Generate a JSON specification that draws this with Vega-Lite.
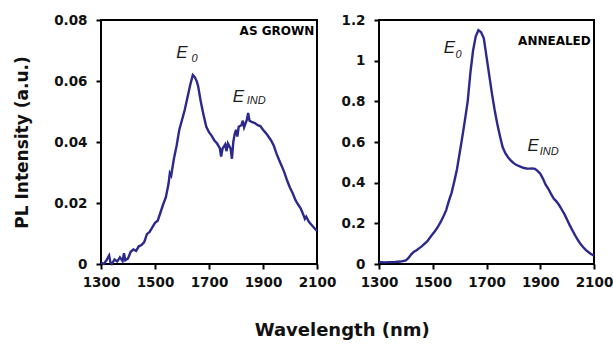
{
  "$schema": "https://vega.github.io/schema/vega-lite/v6.json",
  "background": "white",
  "padding": {"left": 12, "top": 12, "right": 10, "bottom": 5},
  "bounds": "flush",
  "spacing": 62,
  "title": {"text": "Wavelength (nm)", "orient": "bottom", "anchor": "middle", "font": "DejaVu Sans", "fontSize": 18, "fontWeight": "bold", "color": "#111", "offset": 32, "dx": 29},
  "config": {
    "view": {"stroke": "black", "strokeWidth": 2},
    "axis": {"labelFont": "DejaVu Sans", "labelFontWeight": "bold", "labelFontSize": 13.5, "labelColor": "#111", "tickColor": "black", "tickWidth": 2, "tickSize": 5, "domain": false, "grid": false, "titleFont": "DejaVu Sans", "titleFontWeight": "bold", "titleColor": "#111", "labelOverlap": false, "labelFlush": false},
    "text": {"color": "#1a1a1a"}
  },
  "datasets": {
    "asgrown": [
      {"wl":1300,"pl":0.0005},{"wl":1310,"pl":0.0},{"wl":1320,"pl":0.0012},{"wl":1330,"pl":0.0028},{"wl":1335,"pl":0.0005},{"wl":1340,"pl":0.0},{"wl":1350,"pl":0.0015},{"wl":1360,"pl":0.0008},{"wl":1370,"pl":0.0022},{"wl":1380,"pl":0.001},{"wl":1385,"pl":0.0035},{"wl":1390,"pl":0.0012},{"wl":1400,"pl":0.0018},{"wl":1410,"pl":0.004},{"wl":1420,"pl":0.0048},{"wl":1430,"pl":0.0043},{"wl":1440,"pl":0.0058},{"wl":1450,"pl":0.0062},{"wl":1460,"pl":0.0072},{"wl":1470,"pl":0.0098},{"wl":1480,"pl":0.0105},{"wl":1490,"pl":0.012},{"wl":1500,"pl":0.0135},{"wl":1510,"pl":0.0142},{"wl":1520,"pl":0.0168},{"wl":1530,"pl":0.0195},{"wl":1540,"pl":0.0218},{"wl":1550,"pl":0.0262},{"wl":1555,"pl":0.0298},{"wl":1560,"pl":0.029},{"wl":1570,"pl":0.0345},{"wl":1580,"pl":0.0388},{"wl":1590,"pl":0.044},{"wl":1600,"pl":0.0472},{"wl":1610,"pl":0.0505},{"wl":1620,"pl":0.0545},{"wl":1630,"pl":0.0585},{"wl":1640,"pl":0.062},{"wl":1648,"pl":0.0612},{"wl":1655,"pl":0.0598},{"wl":1660,"pl":0.0582},{"wl":1670,"pl":0.053},{"wl":1680,"pl":0.0488},{"wl":1690,"pl":0.045},{"wl":1700,"pl":0.0432},{"wl":1710,"pl":0.042},{"wl":1720,"pl":0.0405},{"wl":1730,"pl":0.0395},{"wl":1740,"pl":0.038},{"wl":1745,"pl":0.0352},{"wl":1750,"pl":0.0378},{"wl":1760,"pl":0.0392},{"wl":1765,"pl":0.037},{"wl":1770,"pl":0.0395},{"wl":1780,"pl":0.0378},{"wl":1785,"pl":0.0345},{"wl":1790,"pl":0.04},{"wl":1795,"pl":0.0425},{"wl":1800,"pl":0.044},{"wl":1805,"pl":0.0418},{"wl":1810,"pl":0.045},{"wl":1820,"pl":0.0455},{"wl":1825,"pl":0.047},{"wl":1830,"pl":0.0448},{"wl":1840,"pl":0.0472},{"wl":1845,"pl":0.0495},{"wl":1850,"pl":0.047},{"wl":1860,"pl":0.0465},{"wl":1870,"pl":0.0462},{"wl":1880,"pl":0.0455},{"wl":1890,"pl":0.0452},{"wl":1900,"pl":0.044},{"wl":1910,"pl":0.043},{"wl":1920,"pl":0.0418},{"wl":1930,"pl":0.0405},{"wl":1940,"pl":0.0388},{"wl":1950,"pl":0.0362},{"wl":1960,"pl":0.034},{"wl":1970,"pl":0.032},{"wl":1980,"pl":0.0298},{"wl":1990,"pl":0.0272},{"wl":2000,"pl":0.025},{"wl":2010,"pl":0.0232},{"wl":2020,"pl":0.021},{"wl":2030,"pl":0.0195},{"wl":2040,"pl":0.0182},{"wl":2050,"pl":0.016},{"wl":2055,"pl":0.0148},{"wl":2060,"pl":0.0155},{"wl":2070,"pl":0.0138},{"wl":2080,"pl":0.0128},{"wl":2090,"pl":0.0118},{"wl":2100,"pl":0.0108}
    ],
    "annealed": [
      {"wl":1300,"pl":0.01},{"wl":1320,"pl":0.008},{"wl":1340,"pl":0.009},{"wl":1360,"pl":0.01},{"wl":1380,"pl":0.012},{"wl":1400,"pl":0.018},{"wl":1410,"pl":0.03},{"wl":1420,"pl":0.048},{"wl":1430,"pl":0.06},{"wl":1440,"pl":0.068},{"wl":1450,"pl":0.078},{"wl":1460,"pl":0.088},{"wl":1470,"pl":0.1},{"wl":1480,"pl":0.112},{"wl":1490,"pl":0.13},{"wl":1500,"pl":0.148},{"wl":1510,"pl":0.165},{"wl":1520,"pl":0.185},{"wl":1530,"pl":0.208},{"wl":1540,"pl":0.235},{"wl":1550,"pl":0.265},{"wl":1560,"pl":0.31},{"wl":1570,"pl":0.35},{"wl":1580,"pl":0.405},{"wl":1590,"pl":0.465},{"wl":1600,"pl":0.545},{"wl":1610,"pl":0.625},{"wl":1620,"pl":0.71},{"wl":1630,"pl":0.8},{"wl":1640,"pl":0.94},{"wl":1650,"pl":1.05},{"wl":1660,"pl":1.12},{"wl":1670,"pl":1.15},{"wl":1680,"pl":1.14},{"wl":1690,"pl":1.11},{"wl":1700,"pl":1.02},{"wl":1710,"pl":0.93},{"wl":1720,"pl":0.84},{"wl":1730,"pl":0.76},{"wl":1740,"pl":0.69},{"wl":1750,"pl":0.63},{"wl":1760,"pl":0.575},{"wl":1770,"pl":0.545},{"wl":1780,"pl":0.525},{"wl":1790,"pl":0.51},{"wl":1800,"pl":0.497},{"wl":1810,"pl":0.488},{"wl":1820,"pl":0.482},{"wl":1830,"pl":0.477},{"wl":1840,"pl":0.472},{"wl":1850,"pl":0.47},{"wl":1860,"pl":0.469},{"wl":1870,"pl":0.47},{"wl":1880,"pl":0.468},{"wl":1890,"pl":0.458},{"wl":1900,"pl":0.444},{"wl":1910,"pl":0.42},{"wl":1920,"pl":0.39},{"wl":1930,"pl":0.37},{"wl":1940,"pl":0.345},{"wl":1950,"pl":0.322},{"wl":1960,"pl":0.308},{"wl":1970,"pl":0.29},{"wl":1980,"pl":0.268},{"wl":1990,"pl":0.245},{"wl":2000,"pl":0.218},{"wl":2010,"pl":0.19},{"wl":2020,"pl":0.165},{"wl":2030,"pl":0.14},{"wl":2040,"pl":0.118},{"wl":2050,"pl":0.098},{"wl":2060,"pl":0.082},{"wl":2070,"pl":0.068},{"wl":2080,"pl":0.058},{"wl":2090,"pl":0.048},{"wl":2100,"pl":0.042}
    ],
    "labelsL": [
      {"kind":"main","text":"E","wl":1579,"pl":0.0693},
      {"kind":"sub","text":"0","wl":1635,"pl":0.0673},
      {"kind":"main","text":"E","wl":1788,"pl":0.0549},
      {"kind":"sub","text":"IND","wl":1840,"pl":0.0533},
      {"kind":"head","text":"AS GROWN","wl":2090,"pl":0.0764}
    ],
    "labelsR": [
      {"kind":"main","text":"E","wl":1541,"pl":1.064},
      {"kind":"sub","text":"0","wl":1585,"pl":1.029},
      {"kind":"main","text":"E","wl":1853,"pl":0.58},
      {"kind":"sub","text":"IND","wl":1898,"pl":0.55},
      {"kind":"head","text":"ANNEALED","wl":2088,"pl":1.099}
    ]
  },
  "hconcat": [
    {
      "width": 216, "height": 244,
      "layer": [
        {
          "data": {"name": "asgrown"},
          "mark": {"type": "line", "color": "#2B2A8C", "strokeWidth": 2.4},
          "encoding": {
            "x": {"field": "wl", "type": "quantitative", "scale": {"domain": [1300, 2100]}, "axis": {"title": null, "values": [1300,1500,1700,1900,2100], "format": "d", "labelPadding": 6}},
            "y": {"field": "pl", "type": "quantitative", "scale": {"domain": [0, 0.08]}, "axis": {"title": "PL Intensity (a.u.)", "titleFontSize": 17, "titlePadding": 22, "values": [0,0.02,0.04,0.06,0.08], "format": ".2~f", "labelPadding": 9}}
          }
        },
        {
          "data": {"name": "labelsL"},
          "transform": [{"filter": "datum.kind == 'main'"}],
          "mark": {"type": "text", "font": "Liberation Sans", "fontStyle": "italic", "fontSize": 17, "align": "left", "baseline": "middle"},
          "encoding": {"x": {"field": "wl", "type": "quantitative"}, "y": {"field": "pl", "type": "quantitative"}, "text": {"field": "text"}}
        },
        {
          "data": {"name": "labelsL"},
          "transform": [{"filter": "datum.kind == 'sub'"}],
          "mark": {"type": "text", "font": "Liberation Sans", "fontStyle": "italic", "fontSize": 11, "align": "left", "baseline": "middle"},
          "encoding": {"x": {"field": "wl", "type": "quantitative"}, "y": {"field": "pl", "type": "quantitative"}, "text": {"field": "text"}}
        },
        {
          "data": {"name": "labelsL"},
          "transform": [{"filter": "datum.kind == 'head'"}],
          "mark": {"type": "text", "font": "DejaVu Sans", "fontWeight": "bold", "fontSize": 12, "align": "right", "baseline": "middle", "color": "#000"},
          "encoding": {"x": {"field": "wl", "type": "quantitative"}, "y": {"field": "pl", "type": "quantitative"}, "text": {"field": "text"}}
        }
      ]
    },
    {
      "width": 215, "height": 244,
      "layer": [
        {
          "data": {"name": "annealed"},
          "mark": {"type": "line", "color": "#2B2A8C", "strokeWidth": 2.4},
          "encoding": {
            "x": {"field": "wl", "type": "quantitative", "scale": {"domain": [1300, 2100]}, "axis": {"title": null, "values": [1300,1500,1700,1900,2100], "format": "d", "labelPadding": 6}},
            "y": {"field": "pl", "type": "quantitative", "scale": {"domain": [0, 1.2]}, "axis": {"title": null, "values": [0,0.2,0.4,0.6,0.8,1,1.2], "format": ".1~f", "labelPadding": 9}}
          }
        },
        {
          "data": {"name": "labelsR"},
          "transform": [{"filter": "datum.kind == 'main'"}],
          "mark": {"type": "text", "font": "Liberation Sans", "fontStyle": "italic", "fontSize": 17, "align": "left", "baseline": "middle"},
          "encoding": {"x": {"field": "wl", "type": "quantitative"}, "y": {"field": "pl", "type": "quantitative"}, "text": {"field": "text"}}
        },
        {
          "data": {"name": "labelsR"},
          "transform": [{"filter": "datum.kind == 'sub'"}],
          "mark": {"type": "text", "font": "Liberation Sans", "fontStyle": "italic", "fontSize": 11, "align": "left", "baseline": "middle"},
          "encoding": {"x": {"field": "wl", "type": "quantitative"}, "y": {"field": "pl", "type": "quantitative"}, "text": {"field": "text"}}
        },
        {
          "data": {"name": "labelsR"},
          "transform": [{"filter": "datum.kind == 'head'"}],
          "mark": {"type": "text", "font": "DejaVu Sans", "fontWeight": "bold", "fontSize": 12, "align": "right", "baseline": "middle", "color": "#000"},
          "encoding": {"x": {"field": "wl", "type": "quantitative"}, "y": {"field": "pl", "type": "quantitative"}, "text": {"field": "text"}}
        }
      ]
    }
  ]
}
